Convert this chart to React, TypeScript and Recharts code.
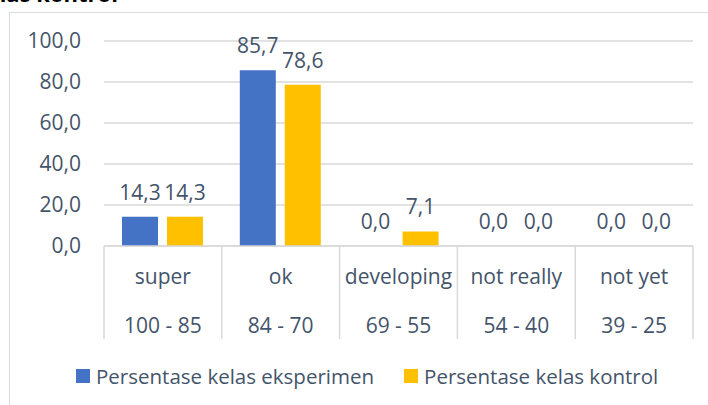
import React from 'react';
import { BarChart, Bar, XAxis, YAxis, CartesianGrid, LabelList } from 'recharts';

const categories = ['super', 'ok', 'developing', 'not really', 'not yet'];
const ranges = ['100 - 85', '84 - 70', '69 - 55', '54 - 40', '39 - 25'];
const eksperimen = [14.3, 85.7, 0.0, 0.0, 0.0];
const kontrol = [14.3, 78.6, 7.1, 0.0, 0.0];
const yTicks = [0, 20, 40, 60, 80, 100];
const seriesNames = ['Persentase kelas eksperimen', 'Persentase kelas kontrol'];
const seriesColors = ['#4472C4', '#FFC000'];

const data = categories.map((c, i) => ({ name: c, range: ranges[i], eks: eksperimen[i], kon: kontrol[i] }));

const W = 708;
const H = 405;
const FONT = "'Open Sans', sans-serif";
const TEXT = '#44546A';
const GRID = '#D9D9D9';
const FS = 21;
const MARGIN = { top: 41, right: 15, left: 0, bottom: 65 };
const Y_W = 104;
const PLOT_W = W - MARGIN.left - MARGIN.right - Y_W;

const fmt = (v: any) => Number(v).toFixed(1).replace('.', ',');

const CatTick = (props: any) => {
  const { x, y, payload, index } = props;
  const band = PLOT_W / categories.length;
  const left = x - band / 2;
  const right = x + band / 2;
  return (
    <g>
      <line x1={left} y1={y} x2={left} y2={y + 93} stroke={GRID} strokeWidth={1.5} />
      {index === categories.length - 1 && (
        <line x1={right} y1={y} x2={right} y2={y + 93} stroke={GRID} strokeWidth={1.5} />
      )}
      <text x={x} y={y + 38} textAnchor="middle" fill={TEXT} fontSize={FS} fontFamily={FONT}>
        {payload.value}
      </text>
      <text x={x} y={y + 87} textAnchor="middle" fill={TEXT} fontSize={FS} fontFamily={FONT}>
        {ranges[index]}
      </text>
    </g>
  );
};

export default function App() {
  return (
    <div
      style={{
        position: 'absolute',
        left: 0,
        top: 0,
        width: W,
        height: H,
        overflow: 'hidden',
        background: '#fff',
        fontFamily: FONT,
      }}
    >
      <div
        style={{
          position: 'absolute',
          left: -27,
          top: -18,
          fontSize: 22,
          lineHeight: '22px',
          fontWeight: 700,
          color: '#000',
          whiteSpace: 'nowrap',
        }}
      >
        kelas kontrol
      </div>
      <div
        style={{
          position: 'absolute',
          left: 9,
          top: 12,
          width: 800,
          height: 500,
          border: '1.5px solid #D9DDE3',
        }}
      />
      <div style={{ position: 'absolute', left: 0, top: 0 }}>
        <BarChart width={W} height={H} data={data} margin={MARGIN} barSize={36} barGap={9}>
          <CartesianGrid vertical={false} stroke={GRID} strokeWidth={1.5} />
          <XAxis
            dataKey="name"
            height={94}
            tickLine={false}
            tickSize={0}
            tickMargin={0}
            axisLine={{ stroke: GRID, strokeWidth: 1.5 }}
            tick={<CatTick />}
            interval={0}
          />
          <YAxis
            width={Y_W}
            domain={[0, 100]}
            ticks={yTicks}
            tickFormatter={fmt}
            axisLine={false}
            tickLine={false}
            tickSize={0}
            tickMargin={23}
            tick={{ fill: TEXT, fontSize: FS, fontFamily: FONT }}
          />
          <Bar dataKey="eks" name={seriesNames[0]} fill={seriesColors[0]} minPointSize={0.01} isAnimationActive={false}>
            <LabelList dataKey="eks" position="top" offset={17} formatter={fmt} fill={TEXT} fontSize={FS} fontFamily={FONT} />
          </Bar>
          <Bar dataKey="kon" name={seriesNames[1]} fill={seriesColors[1]} minPointSize={0.01} isAnimationActive={false}>
            <LabelList dataKey="kon" position="top" offset={17} formatter={fmt} fill={TEXT} fontSize={FS} fontFamily={FONT} />
          </Bar>
        </BarChart>
      </div>
      <div
        style={{
          position: 'absolute',
          left: 76,
          top: 362,
          display: 'flex',
          alignItems: 'center',
          fontSize: 20.5,
          lineHeight: '28px',
          color: TEXT,
          whiteSpace: 'nowrap',
        }}
      >
        {seriesNames.map((n, i) => (
          <div key={n} style={{ display: 'flex', alignItems: 'center', marginLeft: i === 0 ? 0 : 30 }}>
            <div style={{ width: 14, height: 14, background: seriesColors[i], marginRight: 6 }} />
            <span>{n}</span>
          </div>
        ))}
      </div>
    </div>
  );
}
